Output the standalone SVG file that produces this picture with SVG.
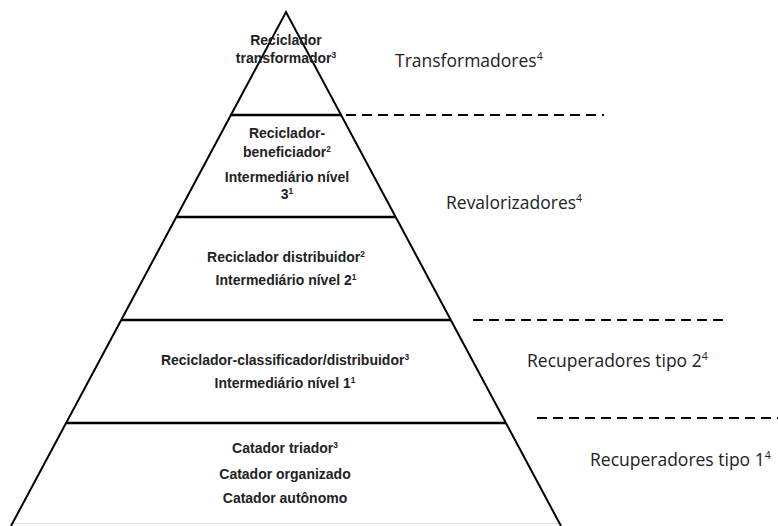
<svg xmlns="http://www.w3.org/2000/svg" width="778" height="526" viewBox="0 0 778 526">
<style>
.edge{stroke:#000;stroke-width:2;fill:none}
.lvl{stroke:#000;stroke-width:2.5;fill:none}
.dash{stroke:#000;stroke-width:2;stroke-dasharray:10 6;fill:none}
.base{stroke:#e4e4e4;stroke-width:1;fill:none}
.nt{font-family:"Liberation Sans",Arial,sans-serif;font-size:14px;font-weight:bold;fill:#222;text-anchor:middle}
.gt{font-family:"Open Sans","Liberation Sans",Arial,sans-serif;font-size:17.5px;fill:#222}
.sup{font-size:0.6em}
</style>
<rect width="778" height="526" fill="#fff"/>
<g id="pyramid">
<line class="base" x1="10" y1="523.5" x2="562" y2="523.5"/>
<polyline class="edge" points="11,526 286,12 561,526"/>
</g>
<g id="connectors">
<line class="lvl" x1="230" y1="115" x2="342" y2="115"/>
<line class="lvl" x1="176" y1="217" x2="396" y2="217"/>
<line class="lvl" x1="121" y1="320" x2="451" y2="320"/>
<line class="lvl" x1="66" y1="423" x2="506" y2="423"/>
<line class="dash" x1="346" y1="115" x2="604" y2="115"/>
<line class="dash" x1="473" y1="320" x2="724" y2="320"/>
<line class="dash" x1="537" y1="418" x2="778" y2="418"/>
</g>
<g id="n1">
<text class="nt" x="286" y="45">Reciclador</text>
<text class="nt" x="286" y="63">transformador<tspan class="sup" dy="-5">3</tspan></text>
</g>
<g id="n2">
<text class="nt" x="287" y="138">Reciclador-</text>
<text class="nt" x="287" y="157">beneficiador<tspan class="sup" dy="-5">2</tspan></text>
<text class="nt" x="287" y="182">Intermediário nível</text>
<text class="nt" x="287" y="199">3<tspan class="sup" dy="-5">1</tspan></text>
</g>
<g id="n3">
<text class="nt" x="286" y="262">Reciclador distribuidor<tspan class="sup" dy="-5">2</tspan></text>
<text class="nt" x="286" y="285">Intermediário nível 2<tspan class="sup" dy="-5">1</tspan></text>
</g>
<g id="n4">
<text class="nt" x="285" y="365">Reciclador-classificador/distribuidor<tspan class="sup" dy="-5">3</tspan></text>
<text class="nt" x="285" y="388">Intermediário nível 1<tspan class="sup" dy="-5">1</tspan></text>
</g>
<g id="n5">
<text class="nt" x="285" y="453">Catador triador<tspan class="sup" dy="-5">3</tspan></text>
<text class="nt" x="285" y="479">Catador organizado</text>
<text class="nt" x="285" y="503">Catador autônomo</text>
</g>
<g id="g1"><text class="gt" x="395" y="67">Transformadores<tspan class="sup" dy="-7">4</tspan></text></g>
<g id="g2"><text class="gt" x="446" y="209">Revalorizadores<tspan class="sup" dy="-7">4</tspan></text></g>
<g id="g3"><text class="gt" x="527" y="367">Recuperadores tipo 2<tspan class="sup" dy="-7">4</tspan></text></g>
<g id="g4"><text class="gt" x="590" y="466">Recuperadores tipo 1<tspan class="sup" dy="-7">4</tspan></text></g>
</svg>
